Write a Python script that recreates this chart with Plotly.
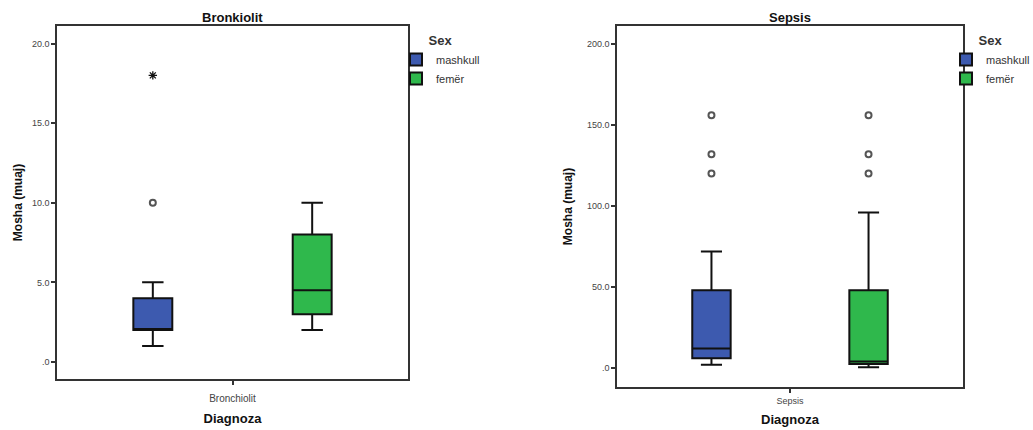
import plotly.graph_objects as go

# ---------------- data ----------------
sexes = ["mashkull", "femër"]
colors = ["#3D5AAF", "#2FB84C"]

# Bronkiolit panel
bronk_category = "Bronchiolit"
bronk_lowerfence = [1.0, 2.0]
bronk_q1 = [2.0, 3.0]
bronk_median = [2.0, 4.5]
bronk_q3 = [4.0, 8.0]
bronk_upperfence = [5.0, 10.0]
bronk_outliers = [[10.0], []]      # circles
bronk_extremes = [[18.0], []]      # stars

# Sepsis panel
seps_category = "Sepsis"
seps_lowerfence = [2.0, 0.5]
seps_q1 = [6.0, 2.5]
seps_median = [12.0, 4.0]
seps_q3 = [48.0, 48.0]
seps_upperfence = [72.0, 96.0]
seps_outliers = [[156.0, 132.0, 120.0], [156.0, 132.0, 120.0]]

bronk_ticks = [0, 5, 10, 15, 20]
bronk_ticktext = [".0", "5.0", "10.0", "15.0", "20.0"]
seps_ticks = [0, 50, 100, 150, 200]
seps_ticktext = [".0", "50.0", "100.0", "150.0", "200.0"]

# ---------------- layout constants ----------------
W, H = 1033, 430
FONT = "Arial, Liberation Sans, sans-serif"
offsets = [-0.227, 0.227]
box_w = 0.111


def px_x(p):
    return p / W


def px_y(p):
    return 1 - p / H


fig = go.Figure()

panels = [
    dict(xa="x", ya="y", legend="legend",
         lf=bronk_lowerfence, q1=bronk_q1, med=bronk_median, q3=bronk_q3, uf=bronk_upperfence,
         out=bronk_outliers, ext=bronk_extremes),
    dict(xa="x2", ya="y2", legend="legend2",
         lf=seps_lowerfence, q1=seps_q1, med=seps_median, q3=seps_q3, uf=seps_upperfence,
         out=seps_outliers, ext=[[], []]),
]

for p in panels:
    for i, s in enumerate(sexes):
        fig.add_trace(go.Box(
            x=[offsets[i]], q1=[p["q1"][i]], median=[p["med"][i]], q3=[p["q3"][i]],
            lowerfence=[p["lf"][i]], upperfence=[p["uf"][i]],
            width=box_w, whiskerwidth=0.55,
            fillcolor=colors[i], line=dict(color="#111111", width=2),
            name=s, legend=p["legend"], xaxis=p["xa"], yaxis=p["ya"],
            boxpoints=False, hoverinfo="skip",
        ))
    for i, s in enumerate(sexes):
        if p["out"][i]:
            fig.add_trace(go.Scatter(
                x=[offsets[i]] * len(p["out"][i]), y=p["out"][i], mode="markers",
                marker=dict(symbol="circle-open", size=6, color="#555555", line=dict(width=2)),
                showlegend=False, xaxis=p["xa"], yaxis=p["ya"], hoverinfo="skip",
            ))
        if p["ext"][i]:
            fig.add_trace(go.Scatter(
                x=[offsets[i]] * len(p["ext"][i]), y=p["ext"][i], mode="markers",
                marker=dict(symbol="asterisk-open", size=7, color="#111111", line=dict(width=1.3, color="#111111")),
                showlegend=False, xaxis=p["xa"], yaxis=p["ya"], hoverinfo="skip",
            ))

axis_common = dict(showline=True, mirror=True, linecolor="#333333", linewidth=1.5,
                   showgrid=False, zeroline=False, ticks="outside", tickcolor="#333333",
                   tickwidth=1.5, ticklen=4, tickfont=dict(size=9, color="#444444", family=FONT))

legend_common = dict(xanchor="left", yanchor="top",
                     title=dict(text="<b>Sex</b>", side="top center", font=dict(size=13)),
                     font=dict(size=11, color="#333333"), bgcolor="rgba(0,0,0,0)", tracegroupgap=0)

fig.update_layout(
    width=W, height=H, margin=dict(l=0, r=0, t=0, b=0, autoexpand=False),
    paper_bgcolor="white", plot_bgcolor="white",
    font=dict(family=FONT, color="#111111"),
    xaxis=dict(domain=[px_x(57), px_x(408)], range=[-0.5, 0.5], tickvals=[0], ticktext=[bronk_category],
               title=dict(text="<b>Diagnoza</b>", font=dict(size=13), standoff=11), anchor="y", **axis_common),
    yaxis=dict(domain=[px_y(379), px_y(26)], range=[-1.07, 21.1], tickvals=bronk_ticks, ticktext=bronk_ticktext,
               title=dict(text="<b>Mosha (muaj)</b>", font=dict(size=12), standoff=7), anchor="x", **axis_common),
    xaxis2=dict(domain=[px_x(617), px_x(963)], range=[-0.5, 0.5], tickvals=[0], ticktext=[seps_category],
                title=dict(text="<b>Diagnoza</b>", font=dict(size=13), standoff=10), anchor="y2", **axis_common),
    yaxis2=dict(domain=[px_y(387), px_y(26)], range=[-11.7, 211.1], tickvals=seps_ticks, ticktext=seps_ticktext,
                title=dict(text="<b>Mosha (muaj)</b>", font=dict(size=12), standoff=12), anchor="x2", **axis_common),
    legend=dict(x=px_x(396), y=px_y(28), **legend_common),
    legend2=dict(x=px_x(946), y=px_y(28), **legend_common),
    annotations=[
        dict(text="<b>Bronkiolit</b>", x=px_x(232), y=px_y(17), xref="paper", yref="paper",
             xanchor="center", yanchor="middle", showarrow=False, font=dict(size=13)),
        dict(text="<b>Sepsis</b>", x=px_x(790), y=px_y(18), xref="paper", yref="paper",
             xanchor="center", yanchor="middle", showarrow=False, font=dict(size=13)),
    ],
)
fig.update_layout(xaxis=dict(tickfont=dict(size=10), ticklabelstandoff=5))

fig.write_html("out.html")
